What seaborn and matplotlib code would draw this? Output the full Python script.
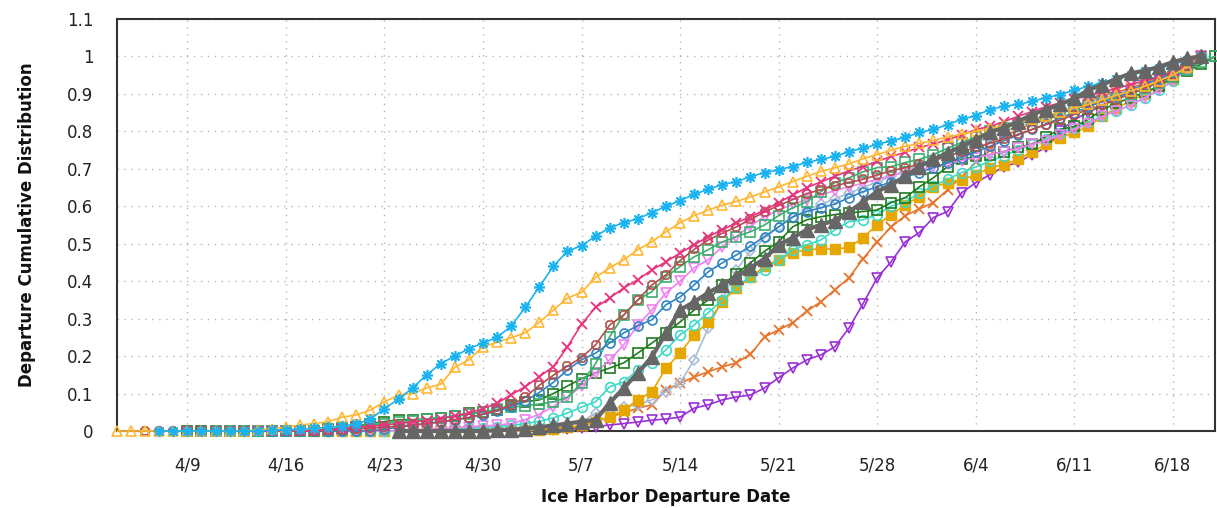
import matplotlib
matplotlib.use("Agg")
import matplotlib.pyplot as plt
import pandas as pd
import seaborn as sns

# ---------------- data ----------------
tick_dates = ["2019-04-09", "2019-04-16", "2019-04-23", "2019-04-30", "2019-05-07",
              "2019-05-14", "2019-05-21", "2019-05-28", "2019-06-04", "2019-06-11", "2019-06-18"]
tick_labels = ["4/9", "4/16", "4/23", "4/30", "5/7", "5/14", "5/21", "5/28", "6/4", "6/11", "6/18"]
y_ticks = [0, 0.1, 0.2, 0.3, 0.4, 0.5, 0.6, 0.7, 0.8, 0.9, 1.0, 1.1]
y_tick_labels = ["0", "0.1", "0.2", "0.3", "0.4", "0.5", "0.6", "0.7", "0.8", "0.9", "1", "1.1"]

cyan_start = "2019-04-07"
cyan_vals = [0, 0, 0, 0, 0, 0, 0, 0,
             0.002, 0.003, 0.005, 0.007, 0.01, 0.013, 0.018, 0.032,
             0.06, 0.085, 0.115, 0.15, 0.18, 0.2, 0.22, 0.235,
             0.25, 0.28, 0.33, 0.385, 0.44, 0.48, 0.495, 0.52,
             0.543, 0.556, 0.567, 0.583, 0.6, 0.615, 0.632, 0.645,
             0.658, 0.666, 0.679, 0.69, 0.698, 0.706, 0.717, 0.725,
             0.733, 0.746, 0.755, 0.765, 0.775, 0.784, 0.797, 0.805,
             0.818, 0.832, 0.842, 0.858, 0.867, 0.872, 0.88, 0.89,
             0.898, 0.91, 0.92, 0.93, 0.94, 0.95, 0.96, 0.968,
             0.978, 0.99, 1.0]

yellow_start = "2019-04-04"
yellow_vals = [0, 0, 0, 0, 0, 0, 0, 0,
               0, 0, 0.003, 0.006, 0.01,
               0.016, 0.02, 0.025, 0.037, 0.043, 0.056, 0.078, 0.096,
               0.1, 0.115, 0.125, 0.17, 0.19, 0.225, 0.237, 0.249,
               0.262, 0.29, 0.323, 0.355, 0.37, 0.41, 0.436, 0.457,
               0.484, 0.505, 0.532, 0.556, 0.575, 0.59, 0.603, 0.613,
               0.625, 0.638, 0.652, 0.666, 0.68, 0.693, 0.703, 0.713,
               0.727, 0.738, 0.75, 0.76, 0.768, 0.776, 0.785, 0.793,
               0.8, 0.808, 0.816, 0.824, 0.832, 0.842, 0.852, 0.862,
               0.872, 0.884, 0.896, 0.908, 0.92, 0.935, 0.95, 0.972,
               1.0]

pink_start = "2019-04-09"
pink_vals = [0, 0, 0, 0, 0, 0, 0, 0, 0, 0,
             0.003, 0.006, 0.01, 0.013, 0.016, 0.02, 0.024, 0.028,
             0.033, 0.04, 0.048, 0.06, 0.074, 0.097, 0.118, 0.145,
             0.172, 0.225, 0.285, 0.33, 0.355, 0.382, 0.404, 0.43,
             0.452, 0.475, 0.497, 0.519, 0.537, 0.556, 0.572, 0.59,
             0.61, 0.63, 0.65, 0.665, 0.68, 0.695, 0.706, 0.72,
             0.733, 0.744, 0.757, 0.766, 0.778, 0.79, 0.805, 0.813,
             0.826, 0.84, 0.853, 0.866, 0.876, 0.886, 0.895, 0.905,
             0.915, 0.925, 0.935, 0.945, 0.96, 0.98, 1.0]

brown_start = "2019-04-06"
brown_vals = [0, 0, 0, 0, 0, 0, 0, 0, 0, 0, 0, 0, 0,
              0.002, 0.004, 0.006, 0.008, 0.01, 0.013, 0.016, 0.02,
              0.024, 0.03, 0.036, 0.045, 0.055, 0.07, 0.09, 0.122,
              0.149, 0.173, 0.196, 0.23, 0.283, 0.31, 0.35, 0.39,
              0.417, 0.455, 0.485, 0.51, 0.528, 0.545, 0.565, 0.585,
              0.602, 0.618, 0.634, 0.644, 0.655, 0.663, 0.672, 0.683,
              0.695, 0.703, 0.712, 0.722, 0.733, 0.745, 0.757, 0.768,
              0.78, 0.792, 0.805, 0.818, 0.83, 0.845, 0.858, 0.87,
              0.885, 0.9, 0.915, 0.93, 0.95, 0.975, 1.0]

blue_start = "2019-04-15"
blue_vals = [0, 0, 0, 0, 0, 0, 0, 0,
             0.005, 0.01, 0.015, 0.02, 0.025, 0.03, 0.036, 0.044,
             0.053, 0.065, 0.08, 0.103, 0.13, 0.163, 0.19, 0.208,
             0.235, 0.262, 0.281, 0.297, 0.337, 0.358, 0.39, 0.425,
             0.449, 0.47, 0.494, 0.519, 0.545, 0.572, 0.586, 0.596,
             0.606, 0.623, 0.639, 0.652, 0.665, 0.678, 0.69, 0.703,
             0.716, 0.73, 0.745, 0.76, 0.775, 0.79, 0.805, 0.82,
             0.835, 0.85, 0.865, 0.88, 0.895, 0.91, 0.925, 0.94,
             0.955, 0.975, 1.0]

mgreen_start = "2019-04-11"
mgreen_vals = [0, 0, 0, 0, 0, 0, 0, 0, 0,
               0.005, 0.01, 0.015, 0.02, 0.025, 0.028, 0.032, 0.036,
               0.04, 0.045, 0.05, 0.058, 0.063, 0.068, 0.072, 0.078,
               0.09, 0.128, 0.18, 0.252, 0.31, 0.35, 0.372, 0.412,
               0.439, 0.465, 0.484, 0.505, 0.519, 0.532, 0.55, 0.575,
               0.596, 0.612, 0.639, 0.663, 0.676, 0.692, 0.703, 0.706,
               0.717, 0.725, 0.738, 0.755, 0.77, 0.785, 0.8, 0.81,
               0.82, 0.83, 0.84, 0.85, 0.86, 0.87, 0.88, 0.89,
               0.9, 0.915, 0.93, 0.945, 0.965, 0.985, 1.0]

violet_start = "2019-04-14"
violet_vals = [0, 0, 0, 0, 0, 0, 0, 0, 0, 0, 0,
               0.003, 0.005, 0.007, 0.009, 0.011, 0.013, 0.016, 0.02,
               0.03, 0.045, 0.065, 0.09, 0.12, 0.155, 0.19, 0.23,
               0.283, 0.323, 0.369, 0.40, 0.436, 0.457, 0.492, 0.519,
               0.548, 0.572, 0.59, 0.605, 0.618, 0.63, 0.642, 0.652,
               0.662, 0.672, 0.682, 0.69, 0.698, 0.706, 0.714, 0.722,
               0.73, 0.738, 0.746, 0.755, 0.765, 0.775, 0.79, 0.805,
               0.82, 0.84, 0.855, 0.87, 0.89, 0.91, 0.935, 0.965,
               1.0]

dgreen_start = "2019-04-09"
dgreen_vals = [0, 0, 0, 0, 0, 0, 0, 0, 0, 0,
               0.005, 0.008, 0.012, 0.02, 0.025, 0.03, 0.03, 0.032,
               0.035, 0.04, 0.048, 0.05, 0.056, 0.07, 0.078, 0.083,
               0.1, 0.12, 0.14, 0.155, 0.168, 0.182, 0.208, 0.235,
               0.262, 0.291, 0.323, 0.35, 0.39, 0.42, 0.449, 0.48,
               0.505, 0.545, 0.564, 0.572, 0.578, 0.582, 0.586, 0.59,
               0.61, 0.623, 0.652, 0.676, 0.706, 0.725, 0.733, 0.738,
               0.746, 0.757, 0.766, 0.786, 0.805, 0.813, 0.832, 0.858,
               0.875, 0.89, 0.904, 0.92, 0.944, 0.96, 0.979, 1.0]

turq_start = "2019-04-12"
turq_vals = [0, 0, 0, 0, 0, 0, 0, 0, 0, 0, 0, 0, 0, 0, 0,
             0.003, 0.005, 0.007, 0.009, 0.012, 0.015, 0.02, 0.026,
             0.035, 0.048, 0.064, 0.078, 0.118, 0.131, 0.163, 0.182,
             0.217, 0.257, 0.283, 0.316, 0.35, 0.385, 0.412, 0.43,
             0.457, 0.484, 0.497, 0.51, 0.537, 0.559, 0.564, 0.578,
             0.6, 0.612, 0.635, 0.655, 0.672, 0.69, 0.705, 0.72,
             0.735, 0.75, 0.765, 0.78, 0.795, 0.81, 0.825, 0.84,
             0.855, 0.87, 0.89, 0.91, 0.935, 0.965, 1.0]

gray_start = "2019-04-24"
gray_vals = [0, 0, 0, 0, 0, 0, 0,
             0.002, 0.004, 0.006, 0.01, 0.015, 0.02, 0.025, 0.03,
             0.075, 0.115, 0.155, 0.198, 0.262, 0.323, 0.345, 0.369,
             0.39, 0.412, 0.436, 0.46, 0.497, 0.516, 0.537, 0.551,
             0.562, 0.585, 0.612, 0.639, 0.658, 0.68, 0.706, 0.725,
             0.743, 0.76, 0.778, 0.797, 0.81, 0.826, 0.845, 0.858,
             0.872, 0.888, 0.91, 0.925, 0.94, 0.955, 0.962, 0.972,
             0.985, 0.995, 1.0]

gold_start = "2019-04-18"
gold_vals = [0, 0, 0, 0, 0, 0, 0, 0, 0, 0, 0, 0, 0, 0, 0,
             0.002, 0.004, 0.006, 0.01, 0.015, 0.025, 0.038, 0.056,
             0.083, 0.105, 0.168, 0.208, 0.257, 0.291, 0.345, 0.382,
             0.41, 0.44, 0.457, 0.476, 0.484, 0.486, 0.486, 0.49,
             0.516, 0.551, 0.578, 0.604, 0.626, 0.652, 0.663, 0.671,
             0.684, 0.703, 0.711, 0.725, 0.745, 0.765, 0.783, 0.797,
             0.813, 0.84, 0.863, 0.88, 0.9, 0.92, 0.94, 0.97,
             1.0]

diamond_start = "2019-04-19"
diamond_vals = [0, 0, 0, 0, 0, 0, 0, 0, 0, 0, 0, 0, 0, 0, 0,
                0.005, 0.01, 0.015, 0.025, 0.048, 0.058, 0.064, 0.07,
                0.083, 0.105, 0.128, 0.19, 0.275, 0.35, 0.43, 0.48,
                0.515, 0.545, 0.57, 0.59, 0.605, 0.62, 0.635, 0.65,
                0.665, 0.68, 0.695, 0.71, 0.725, 0.74, 0.755, 0.77,
                0.785, 0.8, 0.812, 0.825, 0.837, 0.85, 0.862, 0.875,
                0.888, 0.9, 0.912, 0.925, 0.94, 0.955, 0.975, 1.0]

orange_start = "2019-04-10"
orange_vals = [0, 0, 0, 0, 0, 0, 0, 0, 0, 0, 0, 0,
               0, 0, 0, 0, 0, 0, 0, 0, 0, 0, 0, 0,
               0.003, 0.005, 0.008, 0.012, 0.025, 0.038, 0.048, 0.061,
               0.07, 0.11, 0.128, 0.144, 0.158, 0.171, 0.182, 0.205,
               0.251, 0.27, 0.289, 0.32, 0.345, 0.377, 0.409, 0.46,
               0.505, 0.545, 0.575, 0.593, 0.61, 0.644, 0.679, 0.717,
               0.751, 0.786, 0.805, 0.82, 0.835, 0.85, 0.865, 0.88,
               0.895, 0.905, 0.915, 0.93, 0.945, 0.96, 0.98, 1.0]

purple_start = "2019-04-16"
purple_vals = [0, 0, 0, 0, 0, 0, 0, 0, 0, 0, 0, 0, 0, 0, 0, 0, 0, 0,
               0.002, 0.004, 0.006, 0.008, 0.012, 0.016, 0.02, 0.024,
               0.029, 0.032, 0.037, 0.061, 0.07, 0.083, 0.091, 0.096,
               0.115, 0.142, 0.168, 0.19, 0.203, 0.225, 0.275, 0.34,
               0.409, 0.452, 0.505, 0.53, 0.57, 0.586, 0.636, 0.663,
               0.684, 0.706, 0.717, 0.738, 0.757, 0.8, 0.832, 0.85,
               0.87, 0.89, 0.905, 0.925, 0.94, 0.955, 0.975, 1.0]

series = [
    ("purple", purple_start, purple_vals),
    ("orange", orange_start, orange_vals),
    ("diamond", diamond_start, diamond_vals),
    ("gold", gold_start, gold_vals),
    ("turq", turq_start, turq_vals),
    ("dgreen", dgreen_start, dgreen_vals),
    ("violet", violet_start, violet_vals),
    ("mgreen", mgreen_start, mgreen_vals),
    ("blue", blue_start, blue_vals),
    ("brown", brown_start, brown_vals),
    ("pink", pink_start, pink_vals),
    ("yellow", yellow_start, yellow_vals),
    ("cyan", cyan_start, cyan_vals),
    ("gray", gray_start, gray_vals),
]

# ---------------- styles ----------------
styles = {
    "cyan":    dict(color="#1AB3F0", marker=(8, 2, 0), ms=8, mfc="#1AB3F0", mew=1.2, lw=1.2, z=5),
    "yellow":  dict(color="#FFB733", marker="^", ms=7, mfc="none", mew=1.2, lw=1.2, z=4),
    "pink":    dict(color="#E8347E", marker="x", ms=6.5, mfc="none", mew=1.3, lw=1.2, z=4),
    "brown":   dict(color="#B0504C", marker="8", ms=6.5, mfc="none", mew=1.2, lw=1.2, z=4),
    "blue":    dict(color="#2F84C4", marker="o", ms=6.5, mfc="none", mew=1.2, lw=1.2, z=4),
    "mgreen":  dict(color="#3BAF6E", marker="s", ms=7, mfc="none", mew=1.2, lw=1.2, z=4),
    "violet":  dict(color="#EE82EE", marker="v", ms=7, mfc="none", mew=1.2, lw=1.2, z=4),
    "dgreen":  dict(color="#1E7B1E", marker="s", ms=7, mfc="none", mew=1.2, lw=1.2, z=4),
    "turq":    dict(color="#40D9C8", marker="o", ms=7, mfc="none", mew=1.2, lw=1.2, z=4),
    "gray":    dict(color="#666666", marker="^", ms=9.5, mfc="#666666", mew=1.0, lw=3.0, z=6),
    "gold":    dict(color="#E6A700", marker="s", ms=7, mfc="#E6A700", mew=1.0, lw=1.2, z=4),
    "diamond": dict(color="#A9BDD6", marker="D", ms=5.5, mfc="none", mew=1.2, lw=1.2, z=4),
    "orange":  dict(color="#E8742A", marker="x", ms=7, mfc="none", mew=1.3, lw=1.2, z=4),
    "purple":  dict(color="#9A2FD6", marker="v", ms=6.5, mfc="none", mew=1.2, lw=1.2, z=4),
}

sns.set_theme(style="white")
plt.rcParams["font.family"] = ["DejaVu Sans"]

fig = plt.figure(figsize=(12.17, 5.08), dpi=100)
ax = fig.add_axes([117 / 1217, 1 - 431 / 508, (1215 - 117) / 1217, (431 - 19) / 508])

for name, start, vals in series:
    df = pd.DataFrame({
        "date": pd.date_range(start, periods=len(vals), freq="D"),
        "value": vals,
    })
    st = styles[name]
    sns.lineplot(data=df, x="date", y="value", ax=ax, color=st["color"],
                 marker=st["marker"], markersize=st["ms"], markerfacecolor=st["mfc"],
                 markeredgecolor=st["color"], markeredgewidth=st["mew"],
                 linewidth=st["lw"], zorder=st["z"], clip_on=False, legend=False)

ax.set_xlim(pd.Timestamp("2019-04-04"), pd.Timestamp("2019-06-21"))
ax.set_ylim(0, 1.1)
ax.set_xticks(pd.to_datetime(tick_dates))
ax.set_xticklabels(tick_labels)
ax.set_yticks(y_ticks)
ax.set_yticklabels(y_tick_labels)

ax.grid(True, linestyle=(0, (1, 4)), color="#b5b5b5", linewidth=1.0)
ax.set_axisbelow(True)
for sp in ax.spines.values():
    sp.set_visible(True)
    sp.set_color("#333333")
    sp.set_linewidth(1.5)

ax.tick_params(axis="both", which="major", direction="out", length=8, width=1.2,
               color="#333333", labelsize=12, labelcolor="#222222", pad=10)
ax.tick_params(axis="y", pad=9)

ax.set_xlabel("Ice Harbor Departure Date", fontsize=12, fontweight="bold", color="#111111", labelpad=10)
ax.set_ylabel("Departure Cumulative Distribution", fontsize=12, fontweight="bold", color="#111111", labelpad=22)

fig.savefig("out.png", dpi=100)
